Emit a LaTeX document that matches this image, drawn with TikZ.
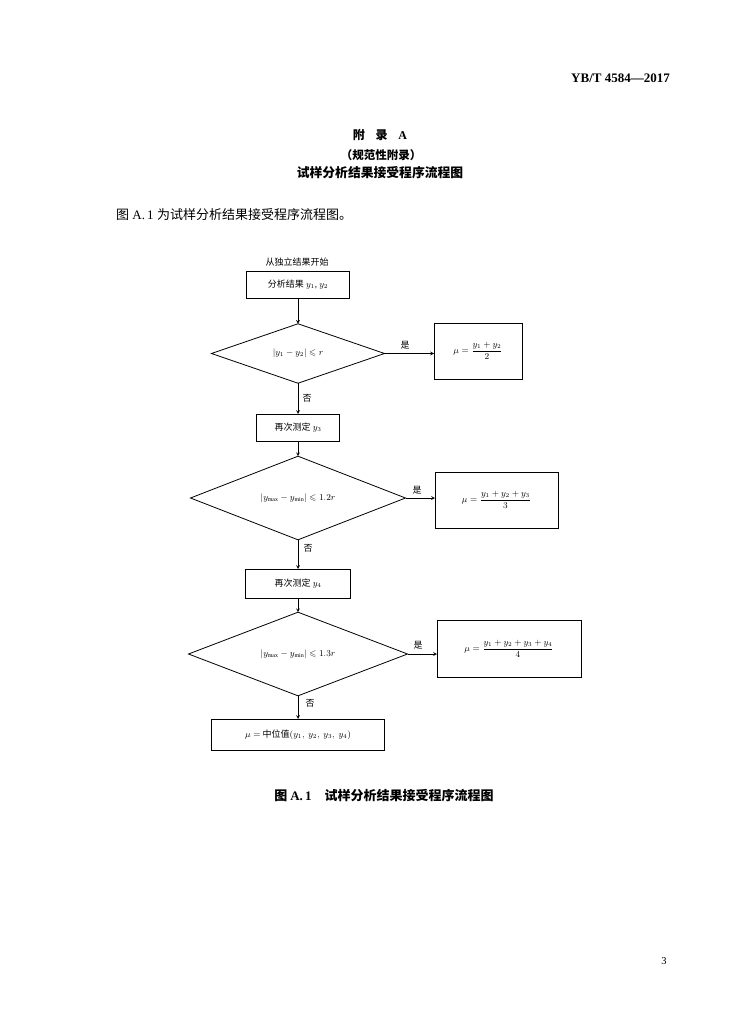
\documentclass[tikz,border=0pt]{standalone}
\usepackage{amsmath,amssymb}
\usepackage{fontspec}
\setmainfont{Liberation Serif}
\newfontfamily\zh{Noto Sans CJK SC}
\usetikzlibrary{shapes.geometric}

\tikzstyle{flow box}=[draw,line width=0.8pt,inner sep=0pt,outer sep=0pt,
    font=\fontsize{9}{11}\selectfont]
\tikzstyle{flow test}=[draw,diamond,line width=0.8pt,inner sep=0pt,
    outer sep=0pt,font=\fontsize{9}{11}\selectfont]
\tikzstyle{flow label}=[inner sep=0pt,font=\zh\fontsize{9}{11}\selectfont]
\tikzstyle{page text}=[inner sep=0pt]
\tikzstyle{transition}=[line width=0.7pt]
\newcommand{\flowbox}[5]{
    \node[flow box,minimum width=#3pt,minimum height=#4pt] at (#1) (#2) {#5};
}
\newcommand{\flowtest}[5]{
    \node[flow test,minimum width=#3pt,minimum height=#4pt] at (#1) (#2) {#5};
}
\newcommand{\flowarrow}[3][]{\draw[->,>=stealth,transition,#1] (#2)--(#3);}

\begin{document}
\begin{tikzpicture}[x=1pt,y=-1pt]
    \fill[white] (0,0) rectangle (734,1024);
    \useasboundingbox (0,0) rectangle (734,1024);
    %
    \node[page text,anchor=east,font=\bfseries\fontsize{13}{15}\selectfont]
        at (670,78) (code) {YB/T 4584—2017};
    \node[page text,font=\zh\bfseries\fontsize{12}{14}\selectfont]
        at (380,135) (annex) {附\hspace{0.9em}录\hspace{0.9em}{\rmfamily A}};
    \node[page text,font=\zh\bfseries\fontsize{11.5}{13}\selectfont]
        at (381,155) (kind) {（规范性附录）};
    \node[page text,font=\zh\bfseries\fontsize{12.8}{15}\selectfont]
        at (380,173) (title) {试样分析结果接受程序流程图};
    \node[page text,anchor=west,font=\fontsize{13}{15}\selectfont]
        at (116,215) (intro) {{\zh 图} A.\,1 {\zh 为试样分析结果接受程序流程图。}};
    %
    \node[flow label] at (297,262) (start) {从独立结果开始};
    \flowbox{298,284.5}{analysis}{103}{27}{{\zh 分析结果} $y_1$, $y_2$}
    \flowtest{298,353.5}{testA}{173}{59}{$\left|y_1-y_2\right|\leqslant r$}
    \flowbox{478,351}{meanA}{88}{56}{$\mu=\dfrac{y_1+y_2}{2}$}
    %
    \flowbox{298,427.5}{thirdrun}{83}{27}{{\zh 再次测定} $y_3$}
    \flowtest{298,498}{testB}{215}{60}
        {$\left|y_{\mathrm{max}}-y_{\mathrm{min}}\right|\leqslant 1.2r$}
    \flowbox{496.5,500}{meanB}{123}{56}{$\mu=\dfrac{y_1+y_2+y_3}{3}$}
    %
    \flowbox{298,583.5}{fourthrun}{105}{29}{{\zh 再次测定} $y_4$}
    \flowtest{298,654}{testC}{219}{60}
        {$\left|y_{\mathrm{max}}-y_{\mathrm{min}}\right|\leqslant 1.3r$}
    \flowbox{509,648.5}{meanC}{144}{57}{$\mu=\dfrac{y_1+y_2+y_3+y_4}{4}$}
    %
    \flowbox{298,734.5}{median}{173}{31}
        {$\mu=$ {\zh 中位值}$(y_1,\ y_2,\ y_3,\ y_4)$}
    %
    \flowarrow{analysis}{testA}
    \flowarrow{testA.east}{testA.east-|meanA.west}
    \flowarrow{testA}{thirdrun}
    \flowarrow{thirdrun}{testB}
    \flowarrow{testB.east}{testB.east-|meanB.west}
    \flowarrow{testB}{fourthrun}
    \flowarrow{fourthrun}{testC}
    \flowarrow{testC.east}{testC.east-|meanC.west}
    \flowarrow{testC}{median}
    %
    \node[flow label] at (405,345) (yesA) {是};
    \node[flow label] at (307,398) (noA) {否};
    \node[flow label] at (417,490) (yesB) {是};
    \node[flow label] at (308,548) (noB) {否};
    \node[flow label] at (418,645) (yesC) {是};
    \node[flow label] at (310,703) (noC) {否};
    %
    \node[page text,font=\zh\bfseries\fontsize{13}{15}\selectfont]
        at (384,796) (caption) {图 {\rmfamily A.\,1}\hspace{1em}试样分析结果接受程序流程图};
    \node[page text,font=\fontsize{10.5}{12}\selectfont] at (664,961) (page) {3};
\end{tikzpicture}
\end{document}
